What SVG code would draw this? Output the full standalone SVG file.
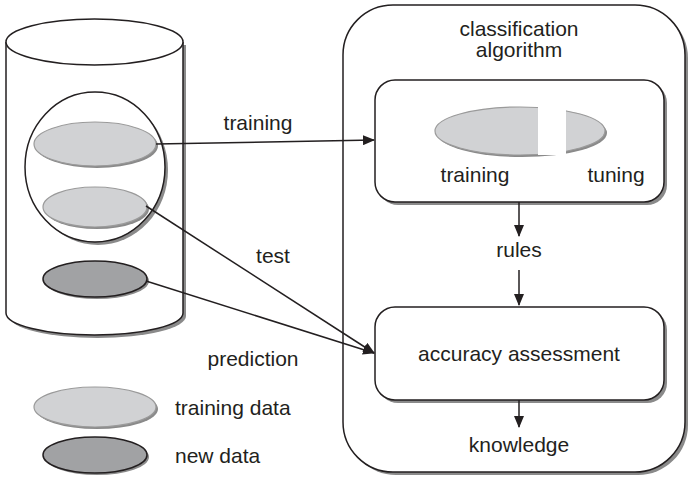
<svg xmlns="http://www.w3.org/2000/svg" width="690" height="479" viewBox="0 0 690 479">
<defs>
<style>
.t{font-family:"Liberation Sans",Arial,sans-serif;font-size:21px;fill:#231f20}
.m{text-anchor:middle}
.ln{stroke:#231f20;stroke-width:1.5;fill:none}
.sh{fill:#8a8a8a;stroke:none}
.light{fill:#d1d2d4;stroke:#9a9a9a;stroke-width:1.2}
.dark{fill:#a1a2a4;stroke:#231f20;stroke-width:1.5}
.box{fill:#fff;stroke:#231f20;stroke-width:1.5}
</style>
<marker id="ah" markerWidth="12" markerHeight="10" refX="11" refY="5" orient="auto" markerUnits="userSpaceOnUse">
<path d="M0,0 L12,5 L0,10 Z" fill="#231f20"/>
</marker>
</defs>
<rect width="690" height="479" fill="#fff"/>

<g id="database">
<path class="sh" d="M9,45 L9,316 A88.5,22 0 0 0 186,316 L186,45 Z"/>
<path class="box" d="M6,42 L6,313 A88.5,22 0 0 0 183,313 L183,42"/>
<ellipse class="box" cx="94.5" cy="42" rx="88.5" ry="23"/>
</g>

<g id="dataset">
<ellipse class="sh" cx="98" cy="170" rx="70" ry="75"/>
<ellipse class="box" cx="95" cy="167" rx="70" ry="75"/>
</g>

<g id="training-set">
<ellipse class="sh" cx="97" cy="146" rx="61" ry="22"/>
<ellipse class="light" cx="95" cy="144" rx="61" ry="22"/>
</g>

<g id="test-set">
<ellipse class="sh" cx="97" cy="209" rx="52" ry="20"/>
<ellipse class="light" cx="95" cy="207" rx="52" ry="20"/>
</g>

<g id="new-set">
<ellipse class="sh" cx="97" cy="281" rx="52" ry="18"/>
<ellipse class="dark" cx="95" cy="279" rx="52" ry="18"/>
</g>

<g id="classification-algorithm">
<rect class="sh" x="346" y="8" width="342" height="467" rx="50"/>
<rect class="box" x="343" y="5" width="342" height="467" rx="50"/>
<text class="t m" x="519" y="36">classification</text>
<text class="t m" x="519" y="57">algorithm</text>
</g>

<g id="training-box">
<rect class="sh" x="378" y="83" width="289" height="122" rx="20"/>
<rect class="box" x="375" y="80" width="289" height="122" rx="20"/>
<ellipse class="sh" cx="522" cy="133" rx="85" ry="24"/>
<ellipse class="light" cx="520" cy="131" rx="85" ry="24"/>
<rect x="538" y="104" width="28" height="51" fill="#fff"/>
<text class="t m" x="475" y="182">training</text>
<text class="t m" x="616" y="182">tuning</text>
</g>

<g id="accuracy-box">
<rect class="sh" x="378" y="310" width="289" height="93" rx="20"/>
<rect class="box" x="375" y="307" width="289" height="93" rx="20"/>
<text class="t m" x="519" y="361">accuracy assessment</text>
</g>

<g id="rules">
<text class="t m" x="519" y="257">rules</text>
</g>

<g id="knowledge">
<text class="t m" x="519" y="452">knowledge</text>
</g>

<g id="legend-training">
<ellipse class="sh" cx="97" cy="409" rx="61" ry="20"/>
<ellipse class="light" cx="95" cy="407" rx="61" ry="20"/>
<text class="t" x="175" y="415">training data</text>
</g>

<g id="legend-new">
<ellipse class="sh" cx="97" cy="457" rx="52" ry="18"/>
<ellipse class="dark" cx="95" cy="455" rx="52" ry="18"/>
<text class="t" x="175" y="463">new data</text>
</g>

<g id="connectors">
<line class="ln" x1="156" y1="144" x2="374" y2="140" marker-end="url(#ah)"/>
<line class="ln" x1="146" y1="206" x2="374" y2="353" marker-end="url(#ah)"/>
<line class="ln" x1="146" y1="281" x2="374" y2="353" marker-end="url(#ah)"/>
<line class="ln" x1="519" y1="202" x2="519" y2="236" marker-end="url(#ah)"/>
<line class="ln" x1="519" y1="270" x2="519" y2="305" marker-end="url(#ah)"/>
<line class="ln" x1="519" y1="400" x2="519" y2="427" marker-end="url(#ah)"/>
<text class="t m" x="258" y="130">training</text>
<text class="t m" x="273" y="263">test</text>
<text class="t m" x="253" y="366">prediction</text>
</g>
</svg>
